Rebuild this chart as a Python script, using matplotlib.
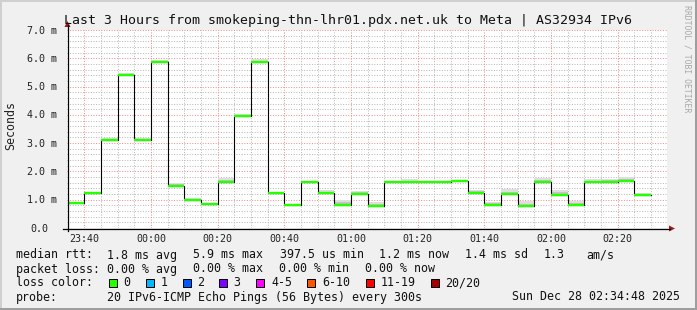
import matplotlib
matplotlib.use("Agg")
import matplotlib.pyplot as plt
from matplotlib.patches import Rectangle, Polygon
from matplotlib.lines import Line2D
import matplotlib.transforms as mtransforms
import numpy as np

W, H, DPI = 697, 310, 100

# ---------------- data ----------------
interval_start = ["23:35", "23:40", "23:45", "23:50", "23:55", "00:00", "00:05",
                  "00:10", "00:15", "00:20", "00:25", "00:30", "00:35", "00:40",
                  "00:45", "00:50", "00:55", "01:00", "01:05", "01:10", "01:15",
                  "01:20", "01:25", "01:30", "01:35", "01:40", "01:45", "01:50",
                  "01:55", "02:00", "02:05", "02:10", "02:15", "02:20", "02:25"]
median_ms = [0.87, 1.25, 3.12, 5.40, 3.12, 5.86, 1.50,
             1.00, 0.86, 1.64, 3.95, 5.87, 1.25, 0.83,
             1.64, 1.22, 0.83, 1.20, 0.78, 1.61, 1.61,
             1.61, 1.61, 1.65, 1.25, 0.82, 1.21, 0.78,
             1.61, 1.18, 0.82, 1.61, 1.64, 1.65, 1.18]
smoke_top_ms = [0.89, 1.27, 3.18, 5.49, 3.18, 5.95, 1.60,
                1.05, 0.88, 1.76, 4.04, 5.96, 1.27, 0.85,
                1.66, 1.35, 0.99, 1.32, 0.91, 1.63, 1.73,
                1.63, 1.63, 1.67, 1.35, 0.93, 1.37, 0.94,
                1.76, 1.35, 0.94, 1.73, 1.74, 1.81, 1.25]
interval_len_min = 5
window_start = "23:34:48"
window_end = "02:34:48"

x_tick_labels = ["23:40", "00:00", "00:20", "00:40", "01:00", "01:20",
                 "01:40", "02:00", "02:20"]
y_tick_values = [0, 1, 2, 3, 4, 5, 6, 7]
y_tick_labels = ["0.0", "1.0 m", "2.0 m", "3.0 m", "4.0 m", "5.0 m", "6.0 m", "7.0 m"]

loss_labels = ["0", "1", "2", "3", "4-5", "6-10", "11-19", "20/20"]
loss_colors = ["#26ff00", "#00b8ff", "#0059ff", "#7e00ff", "#ff00ff",
               "#ff5500", "#ff0000", "#a10000"]

title = "Last 3 Hours from smokeping-thn-lhr01.pdx.net.uk to Meta | AS32934 IPv6"


def to_min(s):
    parts = [int(p) for p in s.split(":")]
    t = parts[0] * 60 + parts[1] + (parts[2] / 60 if len(parts) > 2 else 0)
    if parts[0] >= 12:
        t -= 1440
    return t


starts = np.array([to_min(s) for s in interval_start])
ends = starts + interval_len_min
med = np.array(median_ms)
smk = np.array(smoke_top_ms)
x0, x1 = to_min(window_start), to_min(window_end)

MONO = "DejaVu Sans Mono"
F_AX = 7.2
F_LEG = 8.35
F_TITLE = 9.5


def fx(px):
    return px / W


def fy(py):
    return 1 - py / H


fig = plt.figure(figsize=(W / DPI, H / DPI), dpi=DPI)
fig.patch.set_facecolor("#f0f0f0")

# border shading
fig.add_artist(Rectangle((0, fy(2)), 1, 2 / H, transform=fig.transFigure,
                         facecolor="#cfcfcf", edgecolor="none"))
fig.add_artist(Rectangle((0, 0), 2 / W, 1, transform=fig.transFigure,
                         facecolor="#cfcfcf", edgecolor="none"))
fig.add_artist(Rectangle((0, 0), 1, 2 / H, transform=fig.transFigure,
                         facecolor="#9e9e9e", edgecolor="none"))
fig.add_artist(Rectangle((1 - 2 / W, 0), 2 / W, 1, transform=fig.transFigure,
                         facecolor="#9e9e9e", edgecolor="none"))

# plot area: x 67..667, y 30..228
ax = fig.add_axes([fx(67), fy(228), 600 / W, 198 / H])
ax.set_facecolor("white")
ax.set_xlim(x0, x1)
ax.set_ylim(0, 7)
for s in ax.spines.values():
    s.set_visible(False)
ax.set_xticks([])
ax.set_yticks([])

# grid (1px on / 1px off dots)
minor_c, major_c = "#b8b8b8", "#f08c8c"
PX = 72.0 / DPI
dot = (0, (1.0, 1.6))
for v in np.arange(0.2, 7.01, 0.2):
    if abs(v - round(v)) < 1e-6:
        continue
    ax.axhline(v, color=minor_c, lw=PX, ls=dot, zorder=1)
xt = [to_min(s) for s in x_tick_labels]
for t in np.arange(-20, x1, 5):
    if any(abs(t - m) < 1e-6 for m in xt):
        continue
    ax.axvline(t, color=minor_c, lw=PX, ls=dot, zorder=1)
for v in y_tick_values[1:]:
    ax.axhline(v, color=major_c, lw=PX, ls=dot, zorder=1.5)
for t in xt:
    ax.axvline(t, color=major_c, lw=PX, ls=dot, zorder=1.5)

# smoke
xs = np.append(starts, ends[-1])
ax.fill_between(xs, np.append(med - 0.03, med[-1] - 0.03), np.append(smk, smk[-1]),
                step="post", color="#dedede", lw=0, zorder=2)
mid = med + 0.5 * (smk - med)
ax.fill_between(xs, np.append(med, med[-1]), np.append(mid, mid[-1]),
                step="post", color="#c4c4c4", lw=0, zorder=2.1)

# median line
ax.step(xs, np.append(med, med[-1]), where="post", color="black", lw=0.8, zorder=3)
ax.hlines(med, starts, ends, colors=loss_colors[0], lw=1.7, zorder=4)

# axes lines + arrows
fig.add_artist(Line2D([fx(63), fx(670)], [fy(228.5), fy(228.5)], transform=fig.transFigure,
                      color="black", lw=0.9))
fig.add_artist(Line2D([fx(67.5), fx(67.5)], [fy(231), fy(25)], transform=fig.transFigure,
                      color="black", lw=0.9))
arrow_c = "#9b1c1c"
fig.add_artist(Polygon([(fx(64.5), fy(27)), (fx(70.5), fy(27)), (fx(67.5), fy(21))],
                       closed=True, transform=fig.transFigure, facecolor=arrow_c,
                       edgecolor="none"))
fig.add_artist(Polygon([(fx(669), fy(225.5)), (fx(669), fy(231.5)), (fx(675), fy(228.5))],
                       closed=True, transform=fig.transFigure, facecolor=arrow_c,
                       edgecolor="none"))

# y tick labels
ytrans = mtransforms.blended_transform_factory(fig.transFigure, ax.transData)
ytrans = mtransforms.offset_copy(ytrans, fig=fig, y=-3.6, units="dots")
for v, lab in zip(y_tick_values, y_tick_labels):
    xpos = fx(30) if lab == "0.0" else fx(27)
    fig.text(xpos, v, lab, transform=ytrans, family=MONO, fontsize=F_AX,
             ha="left", va="baseline", color="#222222")

# x tick labels
xtrans = mtransforms.blended_transform_factory(ax.transData, fig.transFigure)
for t, lab in zip(xt, x_tick_labels):
    fig.text(t, fy(241.5), lab, transform=xtrans, family=MONO, fontsize=F_AX,
             ha="center", va="baseline", color="#222222")

# title, y label, watermark
fig.text(fx(348.5), fy(24), title, family=MONO, fontsize=F_TITLE, ha="center",
         va="baseline", color="#111111")
fig.text(fx(11), fy(126), "Seconds", family=MONO, fontsize=F_LEG, rotation=90,
         ha="center", va="center", color="#222222")
fig.text(fx(687), fy(5), "RRDTOOL / TOBI OETIKER", family=MONO, fontsize=5.9,
         rotation=270, ha="center", va="top", color="#a8a8a8")

# legend rows
txt_c = "#111111"


def lt(xp, yp, s, ha="left"):
    fig.text(fx(xp), fy(yp), s, family=MONO, fontsize=F_LEG, ha=ha, va="baseline",
             color=txt_c)


row1 = [(16, "median rtt:"), (107, "1.8 ms avg"), (193, "5.9 ms max"),
        (280, "397.5 us min"), (379, "1.2 ms now"), (465, "1.4 ms sd"),
        (544, "1.3"), (586, "am/s")]
for xp, s in row1:
    lt(xp, 258.5, s)
row2 = [(16, "packet loss:"), (107, "0.00 % avg"), (193, "0.00 % max"),
        (279, "0.00 % min"), (365, "0.00 % now")]
for xp, s in row2:
    lt(xp, 272.5, s)
lt(16, 286.5, "loss color:")
box_x = [109, 146, 183, 219, 256, 307, 366, 431]
lab_x = [123, 161, 197, 233, 271, 322, 381, 445]
for bx, lx, lab, col in zip(box_x, lab_x, loss_labels, loss_colors):
    fig.add_artist(Rectangle((fx(bx), fy(286.5)), 7.5 / W, 8 / H,
                             transform=fig.transFigure, facecolor=col,
                             edgecolor="black", lw=0.72))
    lt(lx, 286.5, lab)
lt(16, 300.5, "probe:")
lt(107, 300.5, "20 IPv6-ICMP Echo Pings (56 Bytes) every 300s")
lt(680, 300.5, "Sun Dec 28 02:34:48 2025", ha="right")

fig.savefig("out.png", dpi=DPI)
